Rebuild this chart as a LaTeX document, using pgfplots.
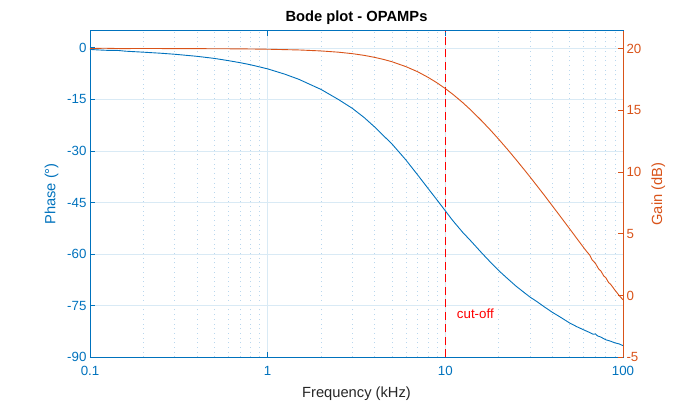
\documentclass[border=0pt]{standalone}
\usepackage{fontspec}
\setmainfont{Liberation Sans}
\usepackage{pgfplots}
\usepackage{pgfplotstable}
\pgfplotsset{compat=1.18}
\definecolor{mblue}{RGB}{0,114,189}
\definecolor{morange}{RGB}{217,83,25}
\definecolor{mred}{RGB}{255,0,0}
\definecolor{gridmaj}{RGB}{217,234,245}
\definecolor{gridmin}{RGB}{185,215,238}
\definecolor{labgray}{RGB}{38,38,38}

\pgfplotstableread{
f phase
0.1 -0.45
0.112 -0.6
0.126 -0.72
0.141 -0.7
0.158 -0.95
0.178 -1.1
0.2 -1.25
0.25 -1.55
0.3 -1.85
0.4 -2.45
0.5 -3.05
0.6 -3.7
0.7 -4.3
0.8 -4.9
1.0 -6.1
1.25 -7.65
1.5 -9.15
2 -12.1
2.5 -15.0
3 -17.6
3.5 -20.3
4 -23.0
4.5 -25.6
5 -27.9
6 -32.6
7 -37.0
8 -40.9
9 -44.3
10 -47.4
11 -50.2
12.5 -53.6
14 -56.3
16 -59.6
18 -62.4
20 -64.8
22.5 -67.2
25 -69.3
28 -71.3
30 -72.5
33 -73.9
36 -75.3
40 -76.9
45 -78.5
50 -80.0
55 -81.1
60 -82.0
65 -82.8
68 -83.3
70 -83.2
72 -83.8
75 -84.1
78 -84.6
80 -84.9
85 -85.3
90 -85.8
95 -86.1
100 -86.6
}\phasedata

\pgfplotstableread{
f gain
0.1 20.0
0.12 20.03
0.15 20.0
0.2 20.01
0.3 20.0
0.5 19.99
0.7 19.98
1 19.95
1.5 19.89
2 19.81
2.5 19.71
3 19.59
3.5 19.45
4 19.29
4.5 19.12
5 18.94
6 18.54
7 18.12
8 17.67
9 17.22
10 16.76
11 16.31
12.5 15.64
14 14.99
16 14.16
18 13.38
20 12.65
22.5 11.80
25 11.01
28 10.14
30 9.60
33 8.84
36 8.14
40 7.27
45 6.30
50 5.42
55 4.62
60 3.89
63 3.50
65 3.28
67 2.90
70 2.60
73 2.15
75 2.00
78 1.58
80 1.45
83 1.05
85 0.93
90 0.45
95 0.02
100 -0.35
}\gaindata

\pgfplotstableread{
f g
10 -5
10 21.45
}\cutdata

\begin{document}
\begin{tikzpicture}
\path[use as bounding box] (-90pt,-44.7pt) rectangle (600pt,357.3pt);
\begin{axis}[
  at={(0pt,0pt)}, anchor=south west,
  scale only axis, width=533pt, height=326.6pt,
  xmode=log, log basis x=10,
  xmin=0.1, xmax=100, ymin=-90, ymax=5,
  xtick={0.1,1,10,100}, xticklabels={0.1,1,10,100},
  minor xtick={0.2,0.3,0.4,0.5,0.6,0.7,0.8,0.9,2,3,4,5,6,7,8,9,20,30,40,50,60,70,80,90},
  ytick={-90,-75,-60,-45,-30,-15,0},
  ytick pos=left, xtick pos=both,
  tick align=inside,
  major tick length=5pt, minor tick length=0pt,
  xmajorgrids, xminorgrids, ymajorgrids,
  major grid style={gridmaj, line width=0.7pt},
  minor grid style={gridmin, line width=0.7pt, dash pattern=on 0.9pt off 3.8pt},
  axis line style={mblue, line width=0.8pt},
  tick style={mblue, line width=0.8pt},
  /pgf/number format/assume math mode=true,
  ticklabel style={font=\fontsize{13.3}{16}\selectfont, text=mblue},
  xticklabel style={yshift=-5.5pt},
  xlabel={Frequency (kHz)},
  ylabel={Phase (°)},
  title={Bode plot - OPAMPs},
  every axis x label/.style={at={(axis description cs:0.5,-0.1115)}, anchor=center, font=\fontsize{14.7}{17}\selectfont, text=labgray},
  every axis y label/.style={at={(axis description cs:-0.0719,0.5)}, rotate=90, anchor=center, font=\fontsize{14.7}{17}\selectfont, text=mblue},
  every axis title/.style={at={(axis description cs:0.5,1.040)}, anchor=center, font=\bfseries\fontsize{14.7}{17}\selectfont, text=black},
]
\addplot[color=mblue, line width=0.9pt] table[x=f, y=phase] {\phasedata};
\node[anchor=west, inner sep=0pt, text=red, font=\fontsize{13.3}{16}\selectfont] at (axis cs:11.6,-77.2) {cut-off};
\end{axis}
\begin{axis}[
  at={(0pt,0pt)}, anchor=south west,
  scale only axis, width=533pt, height=326.6pt,
  xmode=log, log basis x=10,
  xmin=0.1, xmax=100, ymin=-5, ymax=21.45,
  axis x line=none, axis y line*=right,
  ytick={-5,0,5,10,15,20},
  tick align=inside,
  major tick length=5pt, minor tick length=0pt,
  axis line style={morange, line width=0.8pt},
  tick style={morange, line width=0.8pt},
  /pgf/number format/assume math mode=true,
  ticklabel style={font=\fontsize{13.3}{16}\selectfont, text=morange},
  ylabel={Gain (dB)},
  every axis y label/.style={at={(axis description cs:1.0662,0.5)}, rotate=90, anchor=center, font=\fontsize{14.7}{17}\selectfont, text=morange},
]
\addplot[color=mred, draw=mred, line width=1.1pt, dash pattern=on 8pt off 4.5pt] table[x=f, y=g] {\cutdata};
\addplot[color=morange, line width=0.9pt] table[x=f, y=gain] {\gaindata};
\end{axis}
\end{tikzpicture}
\end{document}
